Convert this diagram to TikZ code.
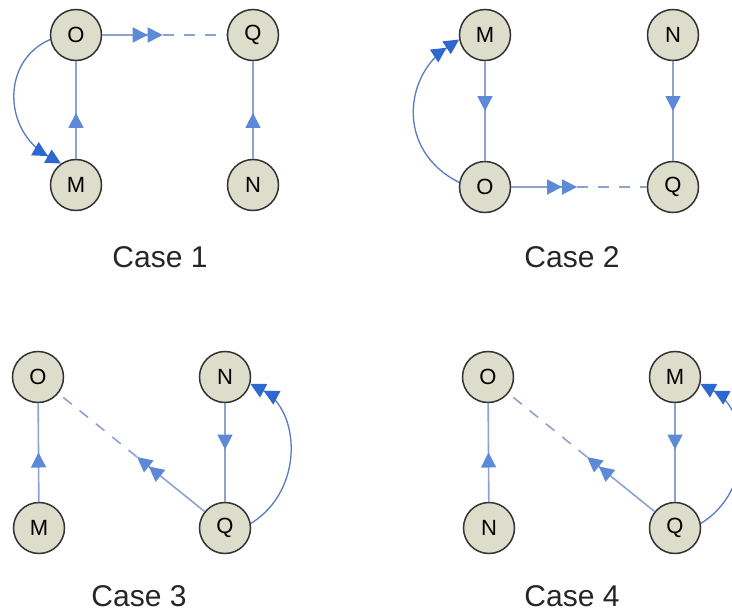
\documentclass[tikz,border=0pt]{standalone}
\usepackage{fontspec}
\setmainfont{Liberation Sans}
\usetikzlibrary{arrows.meta,decorations.markings,calc}
\definecolor{vfill}{RGB}{220,221,203}
\definecolor{lineblue}{RGB}{141,163,206}
\definecolor{headblue}{RGB}{92,138,214}
\definecolor{curveblue}{RGB}{88,122,190}
\definecolor{darkhead}{RGB}{44,104,206}
\begin{document}
\begin{tikzpicture}[x=1pt,y=-1pt,
  vtx/.style={circle,draw=black!80,line width=1.5pt,fill=vfill,minimum size=51pt,inner sep=0pt,font=\fontsize{22}{22}\selectfont},
  edge/.style={draw=lineblue,line width=1.6pt},
  cedge/.style={draw=curveblue,line width=1.3pt},
  midarrow/.style={postaction={decorate},decoration={markings,mark=at position #1 with {\arrow{Triangle[length=15pt,width=15pt,color=headblue]}}}},
  dblhead/.style={-{Triangle[length=15pt,width=15pt,color=headblue]Triangle[length=15pt,width=15pt,color=headblue]}},
  dbldark/.style={-{Triangle[length=15pt,width=15pt,color=darkhead]Triangle[length=15pt,width=15pt,color=darkhead]}},
  dsh/.style={dash pattern=on 11pt off 10pt},
  lbl/.style={font=\fontsize{30}{30}\selectfont,text=black!85,inner sep=1pt}
]
\useasboundingbox (0,0) rectangle (732,613);
\clip (0,0) rectangle (732,613);

% ---------- Case 1 ----------
\node[vtx] (O1) at (76,35) {O};
\node[vtx] (Q1) at (253,35) {Q};
\node[vtx] (M1) at (76,185) {M};
\node[vtx] (N1) at (253,185) {N};
\coordinate (h1) at ($(O1)!0.49!(Q1)$);
\draw[edge,dblhead] (O1) -- (h1);
\draw[edge,dsh] (h1) -- (Q1);
\draw[edge,midarrow=0.47] (M1) -- (O1);
\draw[edge,midarrow=0.47] (N1) -- (Q1);
\draw[cedge,dbldark] (O1.190) .. controls (2,60) and (2,130) .. (M1.125);
\node[lbl] (c1) at (160,257) {Case 1};

% ---------- Case 2 ----------
\node[vtx] (M2) at (485,35) {M};
\node[vtx] (N2) at (673,35) {N};
\node[vtx] (O2) at (485,187) {O};
\node[vtx] (Q2) at (673,187) {Q};
\coordinate (h2) at ($(O2)!0.49!(Q2)$);
\draw[edge,dblhead] (O2) -- (h2);
\draw[edge,dsh] (h2) -- (Q2);
\draw[edge,midarrow=0.5] (M2) -- (O2);
\draw[edge,midarrow=0.5] (N2) -- (Q2);
\draw[cedge,dbldark] (O2.170) .. controls (395,150) and (405,75) .. (M2.190);
\node[lbl] (c2) at (572,257) {Case 2};

% ---------- Case 3 ----------
\node[vtx] (O3) at (38,377) {O};
\node[vtx] (N3) at (225,377) {N};
\node[vtx] (M3) at (39,528) {M};
\node[vtx] (Q3) at (225,528) {Q};
\coordinate (h3) at ($(Q3)!0.47!(O3)$);
\draw[edge,dblhead] (Q3) -- (h3);
\draw[edge,dsh] (h3) -- (O3);
\draw[edge,midarrow=0.5] (M3) -- (O3);
\draw[edge,midarrow=0.47] (N3) -- (Q3);
\draw[cedge,dbldark] (Q3.10) .. controls (305,490) and (300,410) .. (N3.345);
\node[lbl] (c3) at (139,596) {Case 3};

% ---------- Case 4 ----------
\node[vtx] (O4) at (488,377) {O};
\node[vtx] (M4) at (675,377) {M};
\node[vtx] (N4) at (489,528) {N};
\node[vtx] (Q4) at (675,528) {Q};
\coordinate (h4) at ($(Q4)!0.47!(O4)$);
\draw[edge,dblhead] (Q4) -- (h4);
\draw[edge,dsh] (h4) -- (O4);
\draw[edge,midarrow=0.5] (N4) -- (O4);
\draw[edge,midarrow=0.47] (M4) -- (Q4);
\draw[cedge,dbldark] (Q4.10) .. controls (755,490) and (750,410) .. (M4.345);
\node[lbl] (c4) at (572,596) {Case 4};
\end{tikzpicture}
\end{document}
